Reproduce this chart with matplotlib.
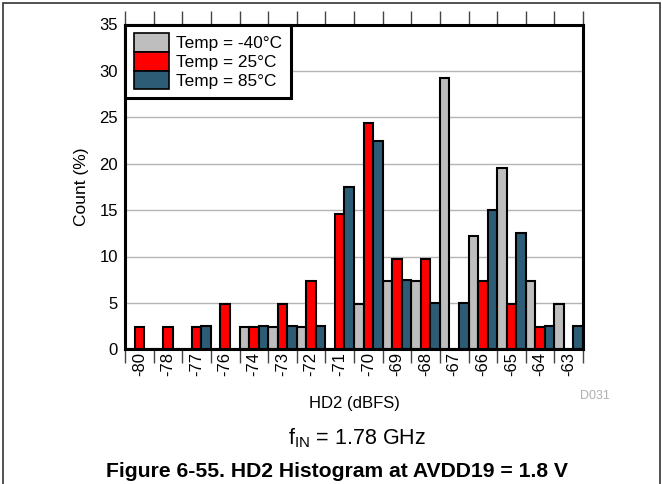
import matplotlib.pyplot as plt
from matplotlib.patches import Patch, Rectangle

plt.rcParams['font.family'] = ['Liberation Sans', 'DejaVu Sans']

# Data
bins = ['-80', '-78', '-77', '-76', '-74', '-73', '-72', '-71',
        '-70', '-69', '-68', '-67', '-66', '-65', '-64', '-63']
temp_m40 = [0, 0, 0, 0, 2.44, 2.44, 2.44, 0,
            4.88, 7.32, 7.32, 29.27, 12.20, 19.51, 7.32, 4.88]
temp_25 = [2.44, 2.44, 2.44, 4.88, 2.44, 4.88, 7.32, 14.63,
           24.39, 9.76, 9.76, 0, 7.32, 4.88, 2.44, 0]
temp_85 = [0, 0, 2.5, 0, 2.5, 2.5, 2.5, 17.5,
           22.5, 7.5, 5.0, 5.0, 15.0, 12.5, 2.5, 2.5]
series_labels = ['Temp = -40°C', 'Temp = 25°C', 'Temp = 85°C']
colors = ['#bebebe', '#ff0000', '#2d5c77']

W, H = 662, 484
fig = plt.figure(figsize=(W / 100, H / 100), dpi=100)

# outer frame of the figure
fig.patches.append(Rectangle((3 / W, -0.01), (657 / W), 1 - 3 / H + 0.01,
                             transform=fig.transFigure, fill=False,
                             edgecolor='#333333', linewidth=1.2))

ax = fig.add_axes([125 / W, 1 - 349.3 / H, 458 / W, 324.8 / H])

n = len(bins)
bw = 1 / 3
for k, vals in enumerate([temp_m40, temp_25, temp_85]):
    xs = [i + bw * k + bw / 2 for i in range(n)]
    ax.bar(xs, vals, width=bw, color=colors[k], edgecolor='black',
           linewidth=1.5, zorder=3)

ax.set_xlim(0, n)
ax.set_ylim(0, 35)
ax.set_yticks(range(0, 36, 5))
ax.grid(axis='y', color='#b4b4b4', linewidth=1.0, zorder=0)

# ticks at slot edges, labels at slot centres
ax.set_xticks(range(n + 1))
ax.set_xticklabels([])
ax.set_xticks([i + 0.5 for i in range(n)], minor=True)
ax.set_xticklabels(bins, minor=True, rotation=90, fontsize=12)
ax.tick_params(axis='x', which='major', direction='out', length=10,
               width=1, color='#444444', top=True)
ax.tick_params(axis='x', which='minor', length=0, pad=2)
ax.tick_params(axis='y', length=0, labelsize=12, pad=5)

for s in ax.spines.values():
    s.set_linewidth(2.2)
    s.set_zorder(4)

ax.set_ylabel('Count (%)', fontsize=12.5, va='center')
ax.yaxis.set_label_coords(-0.095, 0.5)
ax.set_xlabel('HD2 (dBFS)', fontsize=12, va='center')
ax.xaxis.set_label_coords(0.5, -0.168)

handles = [Patch(facecolor=c, edgecolor='black', linewidth=1.2) for c in colors]
leg = ax.legend(handles, series_labels, loc='upper left', borderaxespad=0,
                fontsize=12.4, handlelength=2.03, handleheight=1.3,
                labelspacing=0, handletextpad=0.45, borderpad=0.5,
                fancybox=False, framealpha=1, edgecolor='black')
leg.get_frame().set_linewidth(2.2)
leg.set_zorder(5)

fig.text(595 / W, 1 - 396 / H, 'D031', fontsize=9, color='#b0b0b0',
         ha='center', va='center')
fig.text(357 / W, 1 - 438 / H, r'f$_{\mathregular{IN}}$ = 1.78 GHz',
         fontsize=15.5, ha='center', va='center')
fig.text(337 / W, 1 - 477 / H, 'Figure 6-55. HD2 Histogram at AVDD19 = 1.8 V',
         fontsize=15.2, fontweight='bold', ha='center', va='baseline')

fig.savefig('out.png', dpi=100)
